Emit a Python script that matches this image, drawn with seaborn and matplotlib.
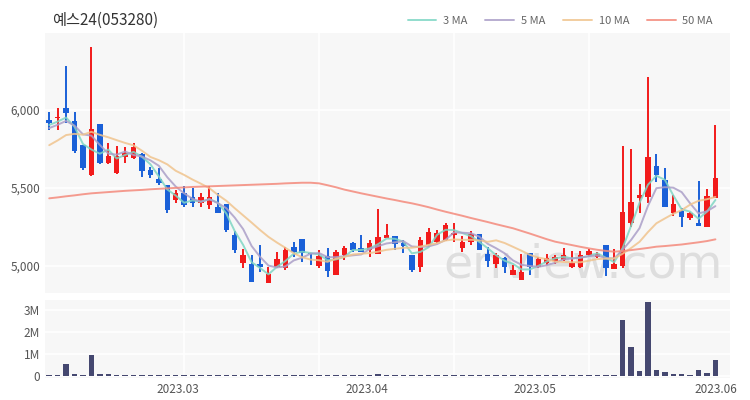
import numpy as np
import pandas as pd
import matplotlib
matplotlib.use('Agg')
import matplotlib.pyplot as plt
import seaborn as sns

# Daily candles (Feb - Jun 2023)
opens = [5936, 5946, 6013, 5930, 5776, 5583, 5908, 5658, 5594, 5697,
         5690, 5718, 5615, 5556, 5519, 5425, 5470, 5444, 5406, 5391,
         5380, 5397, 5199, 5017, 5013, 5013, 4889, 4996, 4987, 5124,
         5171, 5086, 5000, 5064, 4942, 5071, 5145, 5113, 5103, 5077,
         5178, 5192, 5149, 5071, 4996, 5135, 5156, 5167, 5199, 5115,
         5156, 5205, 5077, 5013, 5049, 4942, 4910, 5081, 4992, 5017,
         5034, 5038, 4992, 4992, 5071, 5056, 5135, 4979, 5000, 5274,
         5434, 5444, 5641, 5551, 5338, 5355, 5306, 5278, 5248, 5434]
closes = [5917, 5956, 5983, 5739, 5626, 5876, 5658, 5705, 5705, 5726,
          5765, 5609, 5583, 5531, 5359, 5466, 5391, 5406, 5440, 5440,
          5338, 5231, 5103, 5071, 4899, 4992, 4949, 5043, 5103, 5092,
          5081, 5077, 5064, 4970, 5092, 5113, 5103, 5092, 5145, 5184,
          5199, 5141, 5128, 4975, 5167, 5220, 5214, 5263, 5214, 5156,
          5205, 5103, 5034, 5071, 4996, 4975, 4963, 4996, 5043, 5049,
          5056, 5071, 5021, 5071, 5098, 5077, 4985, 5013, 5348, 5412,
          5455, 5697, 5583, 5380, 5397, 5312, 5338, 5259, 5449, 5562]
highs = [5987, 6013, 6282, 5990, 5776, 6402, 5910, 5790, 5769, 5760,
         5790, 5726, 5637, 5628, 5519, 5487, 5513, 5498, 5470, 5513,
         5470, 5397, 5226, 5107, 5071, 5135, 4996, 5092, 5124, 5156,
         5171, 5086, 5103, 5113, 5103, 5128, 5156, 5199, 5167, 5363,
         5269, 5192, 5167, 5071, 5188, 5241, 5231, 5274, 5278, 5192,
         5226, 5205, 5124, 5086, 5060, 5006, 5077, 5081, 5056, 5077,
         5071, 5113, 5098, 5098, 5107, 5092, 5135, 5107, 5769, 5748,
         5525, 6209, 5718, 5626, 5455, 5370, 5348, 5547, 5492, 5904]
lows = [5872, 5872, 5917, 5723, 5615, 5577, 5655, 5654, 5590, 5662,
        5685, 5572, 5562, 5519, 5338, 5406, 5381, 5376, 5376, 5363,
        5338, 5220, 5081, 4985, 4899, 4963, 4889, 4990, 4975, 5060,
        5028, 5006, 4990, 4928, 4942, 5038, 5092, 5092, 5060, 5077,
        5178, 5103, 5081, 4963, 4963, 5130, 5145, 5160, 5156, 5092,
        5135, 5103, 4996, 4985, 4957, 4942, 4910, 4942, 4985, 5006,
        5013, 5030, 4990, 4990, 5065, 5049, 4936, 4979, 4985, 5252,
        5342, 5406, 5541, 5380, 5321, 5252, 5295, 5259, 5248, 5434]
volumes = [80000, 80000, 560000, 130000, 70000, 950000, 130000, 130000, 60000, 60000,
           60000, 60000, 60000, 60000, 60000, 60000, 60000, 60000, 60000, 60000,
           60000, 60000, 60000, 60000, 60000, 60000, 60000, 60000, 60000, 60000,
           60000, 60000, 60000, 60000, 60000, 60000, 60000, 60000, 60000, 90000,
           60000, 60000, 60000, 60000, 70000, 60000, 60000, 60000, 60000, 60000,
           60000, 60000, 60000, 60000, 60000, 60000, 60000, 60000, 60000, 60000,
           60000, 60000, 60000, 60000, 60000, 60000, 70000, 60000, 2570000, 1330000,
           250000, 3370000, 270000, 220000, 100000, 100000, 60000, 300000, 140000, 720000]
# closes before the visible window, needed for the short moving averages
pre_closes = [5650, 5640, 5660, 5680, 5695, 5850, 5860, 5890, 5905]
# 50-day MA (history before the window is not shown)
ma50 = [5434, 5440, 5447, 5453, 5460, 5466, 5470, 5474, 5478, 5482,
        5485, 5488, 5492, 5495, 5498, 5501, 5504, 5507, 5509, 5511,
        5513, 5515, 5517, 5519, 5521, 5523, 5525, 5527, 5530, 5532,
        5534, 5534, 5530, 5518, 5505, 5490, 5478, 5466, 5455, 5444,
        5433, 5423, 5412, 5402, 5390, 5377, 5362, 5348, 5335, 5322,
        5308, 5295, 5282, 5268, 5255, 5242, 5225, 5208, 5190, 5172,
        5156, 5145, 5134, 5123, 5113, 5104, 5097, 5092, 5096, 5102,
        5109, 5116, 5124, 5128, 5133, 5138, 5145, 5152, 5160, 5171]
month_labels = ['2023.03', '2023.04', '2023.05', '2023.06']
title = '예스24(053280)'

df = pd.DataFrame({'open': opens, 'close': closes, 'high': highs,
                   'low': lows, 'volume': volumes, 'ma50': ma50})
df['idx'] = np.arange(len(df))
full = pd.Series(pre_closes + closes, dtype=float)
for w in [3, 5, 10]:
    df[f'ma{w}'] = full.rolling(w).mean().iloc[len(pre_closes):].values

sns.set_theme(style='white')
plt.rcParams['font.family'] = ['Noto Sans CJK KR', 'DejaVu Sans']

fig = plt.figure(figsize=(7.5, 4), dpi=100)
ax = fig.add_axes([0.06, 0.2675, 0.913, 0.65])
axv = fig.add_axes([0.06, 0.055, 0.913, 0.195], sharex=ax)

bg = '#f7f7f7'
up_col, down_col = '#f21b1b', '#1a60d8'
for a in (ax, axv):
    a.set_facecolor(bg)
    for s in a.spines.values():
        s.set_visible(False)
    a.set_xticks([16, 32, 48, 64], minor=True)
    a.grid(which='minor', axis='x', color='white', lw=1.2)
    a.grid(which='major', axis='y', color='white', lw=1.2)
    a.tick_params(length=0, labelsize=8.5, colors='#555555')
    a.set_axisbelow(True)

# watermark
ax.text(0.99, 0.02, 'enview.com', transform=ax.transAxes, ha='right', va='bottom',
        fontsize=34, color='#dedede', zorder=1, family='DejaVu Sans')

# candles
up = df['close'] >= df['open']
colors = np.where(up, up_col, down_col)
ax.vlines(df['idx'], df['low'], df['high'], color=colors, lw=1.4, zorder=3)
body = (df['close'] - df['open']).abs().clip(lower=8)
ax.bar(df['idx'], body, bottom=df[['open', 'close']].min(axis=1), width=0.65,
       color=colors, linewidth=0, zorder=4)

# moving averages
ma_styles = [('ma3', '3 MA', '#7fd6c4'), ('ma5', '5 MA', '#ab9fc8'),
             ('ma10', '10 MA', '#f0c48e'), ('ma50', '50 MA', '#f48a7c')]
for col, lab, c in ma_styles:
    sns.lineplot(data=df, x='idx', y=col, ax=ax, color=c, lw=1.4, alpha=0.85,
                 label=lab, zorder=5)

ax.set_xlim(-0.5, 80.7)
ax.set_ylim(4827, 6494)
ax.set_yticks([5000, 5500, 6000])
ax.set_yticklabels([f'{v:,}' for v in [5000, 5500, 6000]])
ax.set_xlabel('')
ax.set_ylabel('')
plt.setp(ax.get_xticklabels(), visible=False)
leg = ax.legend(loc='lower right', bbox_to_anchor=(0.99, 0.99), ncol=4,
                frameon=False, fontsize=8, handlelength=2.6, columnspacing=1.6,
                handletextpad=0.6)
for t in leg.get_texts():
    t.set_color('#666666')

# volume
sns.barplot(data=df, x='idx', y='volume', ax=axv, native_scale=True,
            color='#454870', saturation=1, width=0.65, errorbar=None,
            linewidth=0, zorder=3)
axv.set_ylim(-0.07e6, 3.45e6)
axv.set_yticks([0, 1e6, 2e6, 3e6])
axv.set_yticklabels(['0', '1M', '2M', '3M'])
axv.set_xticks([15.2, 37.7, 57.6, 79.0])
axv.set_xticklabels(month_labels)
axv.set_xlim(-0.5, 80.7)
axv.set_xlabel('')
axv.set_ylabel('')

fig.text(52 / 750, 1 - 20 / 400, title, fontsize=11, color='#333333', va='center')

fig.savefig('out.png', dpi=100)
